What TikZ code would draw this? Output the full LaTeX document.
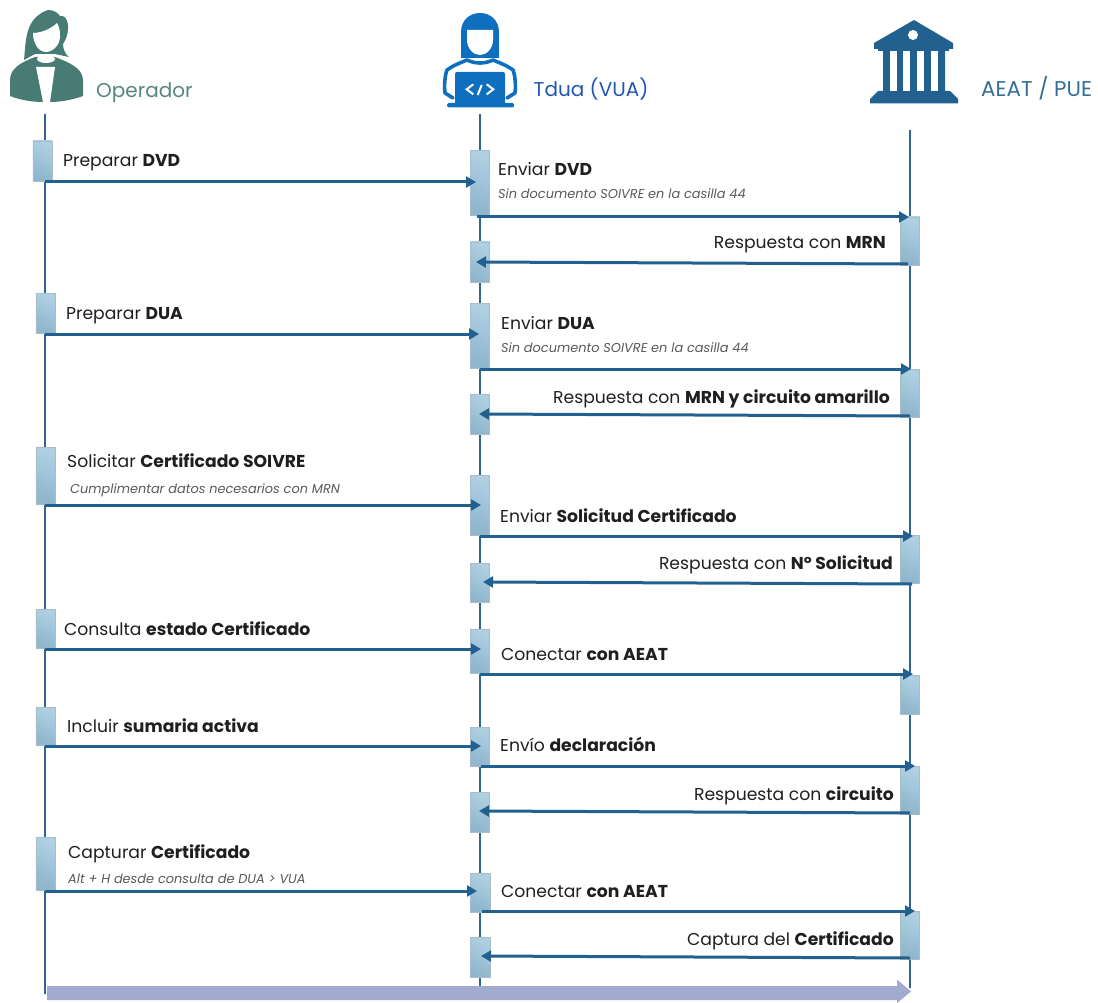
\documentclass[tikz,border=0pt]{standalone}
\usepackage{fontspec}
\setmainfont{Poppins}
\usepackage{xcolor}
\usetikzlibrary{arrows.meta, calc, positioning}

\definecolor{opcol}{HTML}{487B74}
\definecolor{tdcol}{HTML}{0F6FBF}
\definecolor{tdtext}{HTML}{2156B4}
\definecolor{aecol}{HTML}{22618F}
\definecolor{linecol}{HTML}{2F6494}
\definecolor{boxa}{HTML}{AFD0E3}
\definecolor{boxb}{HTML}{8FB6CC}
\definecolor{boxedge}{HTML}{A9BCC8}
\definecolor{barcol}{HTML}{A2ABCF}

\tikzset{
    actbox/.style={shade, top color=boxa, bottom color=boxb, shading angle=-25, draw=boxedge, line width=0.6pt, inner sep=0pt, minimum width=19.5pt},
    msg/.style={->, >={Triangle[length=10pt,width=11pt]}, draw=aecol, line width=3pt},
    life/.style={draw=linecol, line width=2pt},
    lbl/.style={anchor=base west, inner sep=0pt, yshift=-1pt, text=black!88, font=\fontsize{17.2}{20}\selectfont},
    lblr/.style={lbl, anchor=base east},
    sublbl/.style={lbl, yshift=-1pt, text=black!65, font=\fontsize{12.9}{15}\selectfont\itshape},
    actor/.style={anchor=base west, inner sep=0pt, font=\fontsize{20}{23}\selectfont}
}

\begin{document}
\begin{tikzpicture}[x=1pt, y=-1pt]
    \useasboundingbox (0,0) rectangle (1098,1003);

    % lifelines
    \coordinate (opt) at (45,114);
    \coordinate (opb) at (45,994);
    \coordinate (tdt) at (480,114);
    \coordinate (tdb) at (480,987);
    \coordinate (aet) at (910,130);
    \coordinate (aeb) at (910,988);
    \draw[life] (opt) -- (opb);
    \draw[life] (tdt) -- (tdb);
    \draw[life] (aet) -- (aeb);

    % operador icon
    \fill[opcol] (10,96) -- (10,80) .. controls (10,68) and (22,62) .. (35,57) -- (55,57) .. controls (68,62) and (83,68) .. (83,80) -- (83,96) .. controls (72,100) and (60,102) .. (50,102) -- (43,102) .. controls (32,102) and (20,100) .. (10,96) -- cycle;
    \fill[opcol] (24,60) .. controls (26,40) and (25,18) .. (48,10) .. controls (54,10) and (58,13) .. (60,16) .. controls (68,14) and (72,30) .. (63,44) .. controls (63,50) and (66,55) .. (69,57) -- (55,54) -- (35,54) -- cycle;
    \fill[white] (33,33) .. controls (42,33) and (52,28) .. (57,23) .. controls (60,28) and (60,32) .. (60,36) .. controls (60,46) and (52,52) .. (46,52) .. controls (39,52) and (33,44) .. (33,33) -- cycle;
    \fill[white] (46,59) ellipse (9pt and 4pt);
    \fill[white] (36,67) -- (55,67) -- (50,102) -- (43,102) -- cycle;

    % tdua icon
    \fill[tdcol] (461,58) -- (461,32) .. controls (461,20) and (470,13) .. (480,13) .. controls (490,13) and (499,20) .. (499,32) -- (499,58) -- cycle;
    \fill[white] (467,30) -- (493,30) -- (493,40) .. controls (493,48) and (487,55) .. (480,55) .. controls (473,55) and (467,48) .. (467,40) -- cycle;
    \draw[tdcol, line width=3.6pt, line cap=round, line join=round] (453,98) -- (445,93) .. controls (444,85) and (445,75) .. (447,70) .. controls (452,66) and (460,63) .. (467,60) .. controls (475,64) and (485,64) .. (493,60) .. controls (500,63) and (508,66) .. (513,70) .. controls (515,75) and (516,85) .. (515,93) -- (507,98);
    \fill[tdcol, rounded corners=2pt] (455,72) rectangle (505,105);
    \fill[tdcol, rounded corners=1.5pt] (447,103) rectangle (514,107.5);
    \draw[white, line width=2pt] (473.3,84.3) -- (466.7,89.3) -- (473.3,94.3);
    \draw[white, line width=2pt] (481.7,85) -- (477.7,95);
    \draw[white, line width=2pt] (486.7,84.3) -- (493.3,89.3) -- (486.7,94.3);

    % aeat icon
    \fill[aecol] (914,20) -- (953,43) -- (953,49) -- (949,49) -- (949,51) -- (945,51) -- (945,91) -- (950,91) -- (958,99) -- (958,103.5) -- (870,103.5) -- (870,99) -- (878,91) -- (883,91) -- (883,51) -- (878,51) -- (878,49) -- (874,49) -- (874,43) -- cycle;
    \fill[white] (913,35) circle (5pt);
    \fill[white] (889.5,51.5) rectangle (896.5,91);
    \fill[white] (903,51.5) rectangle (910,91);
    \fill[white] (917,51.5) rectangle (924,91);
    \fill[white] (931,51.5) rectangle (938,91);

    % actors
    \node[actor, text=opcol!92!white] (op) at (96,97.5) {Operador};
    \node[actor, text=tdtext] (td) at (533.5,97) {Tdua (VUA)};
    \node[actor, text=aecol!92!white, font=\fontsize{21.4}{24}\selectfont] (ae) at (981,96.5) {AEAT / PUE};

    % activations, operador
    \node[actbox, minimum height=40pt] (o1) at (42.7,161) {};
    \node[actbox, minimum height=40pt] (o2) at (45.7,313) {};
    \node[actbox, minimum height=57pt] (o3) at (45.7,475.5) {};
    \node[actbox, minimum height=39pt] (o4) at (45.7,628.5) {};
    \node[actbox, minimum height=38pt] (o5) at (45.7,726) {};
    \node[actbox, minimum height=53pt] (o6) at (45.7,864) {};

    % activations, tdua
    \node[actbox, minimum height=65pt] (t1) at (480,183) {};
    \node[actbox, minimum height=40pt] (t2) at (480,262) {};
    \node[actbox, minimum height=65pt] (t3) at (480,335.5) {};
    \node[actbox, minimum height=40pt] (t4) at (480,414) {};
    \node[actbox, minimum height=60pt] (t5) at (480,505) {};
    \node[actbox, minimum height=39pt] (t6) at (480,582.5) {};
    \node[actbox, minimum height=44pt] (t7) at (480,651) {};
    \node[actbox, minimum height=39pt] (t8) at (480,746.5) {};
    \node[actbox, minimum height=40pt] (t9) at (480,812) {};
    \node[actbox, minimum height=39pt] (t10) at (480.5,892.5) {};
    \node[actbox, minimum height=40pt] (t11) at (480.5,957) {};

    % activations, aeat
    \node[actbox, minimum height=48pt] (a1) at (910,241) {};
    \node[actbox, minimum height=48pt] (a2) at (910,393) {};
    \node[actbox, minimum height=48pt] (a3) at (910,559) {};
    \node[actbox, minimum height=39pt] (a4) at (910,694.5) {};
    \node[actbox, minimum height=48pt] (a5) at (910,790) {};
    \node[actbox, minimum height=48pt] (a6) at (910,935) {};

    % end points of the messages
    \coordinate (m1a) at (45,182);    \coordinate (m1b) at (476,182);
    \coordinate (m2a) at (477,217);   \coordinate (m2b) at (909,217);
    \coordinate (m3a) at (908,264);   \coordinate (m3b) at (476,262);
    \coordinate (m4a) at (45,334);    \coordinate (m4b) at (479,334);
    \coordinate (m5a) at (480,369);   \coordinate (m5b) at (911,369);
    \coordinate (m6a) at (910,416);   \coordinate (m6b) at (479,414);
    \coordinate (m7a) at (45,505);    \coordinate (m7b) at (481,505);
    \coordinate (m8a) at (480,536);   \coordinate (m8b) at (913,536);
    \coordinate (m9a) at (912,584);   \coordinate (m9b) at (483,582);
    \coordinate (m10a) at (45,649);   \coordinate (m10b) at (481,649);
    \coordinate (m11a) at (480,674);  \coordinate (m11b) at (913,674);
    \coordinate (m12a) at (45,746);   \coordinate (m12b) at (481,746);
    \coordinate (m13a) at (481,766);  \coordinate (m13b) at (915,766);
    \coordinate (m14a) at (910,813);  \coordinate (m14b) at (479,811);
    \coordinate (m15a) at (45,891);   \coordinate (m15b) at (477,891);
    \coordinate (m16a) at (482,911);  \coordinate (m16b) at (915,911);
    \coordinate (m17a) at (910,958);  \coordinate (m17b) at (481,956);

    \draw
    (m1a) edge[msg] (m1b)
    (m2a) edge[msg] (m2b)
    (m3a) edge[msg] (m3b)
    (m4a) edge[msg] (m4b)
    (m5a) edge[msg] (m5b)
    (m6a) edge[msg] (m6b)
    (m7a) edge[msg] (m7b)
    (m8a) edge[msg] (m8b)
    (m9a) edge[msg] (m9b)
    (m10a) edge[msg] (m10b)
    (m11a) edge[msg] (m11b)
    (m12a) edge[msg] (m12b)
    (m13a) edge[msg] (m13b)
    (m14a) edge[msg] (m14b)
    (m15a) edge[msg] (m15b)
    (m16a) edge[msg] (m16b)
    (m17a) edge[msg] (m17b);

    % labels
    \node[lbl] (l1) at (63,166) {Preparar \textbf{DVD}};
    \node[lbl] (l2) at (498,175) {Enviar \textbf{DVD}};
    \node[sublbl] (l2s) at (498,197) {Sin documento SOIVRE en la casilla 44};
    \node[lblr] (l3) at (886,247) {Respuesta con \textbf{MRN}};
    \node[lbl] (l4) at (66,318) {Preparar \textbf{DUA}};
    \node[lbl] (l5) at (501,328) {Enviar \textbf{DUA}};
    \node[sublbl] (l5s) at (501,350) {Sin documento SOIVRE en la casilla 44};
    \node[lblr] (l6) at (890,402) {Respuesta con \textbf{MRN y circuito amarillo}};
    \node[lbl] (l7) at (67,466) {Solicitar \textbf{Certificado SOIVRE}};
    \node[sublbl] (l7s) at (70,491) {Cumplimentar datos necesarios con MRN};
    \node[lbl] (l8) at (500,521) {Enviar \textbf{Solicitud Certificado}};
    \node[lblr] (l9) at (893,568) {Respuesta con \textbf{Nº Solicitud}};
    \node[lbl] (l10) at (64,634) {Consulta \textbf{estado Certificado}};
    \node[lbl] (l11) at (501,659) {Conectar \textbf{con AEAT}};
    \node[lbl] (l12) at (67,731) {Incluir \textbf{sumaria activa}};
    \node[lbl] (l13) at (500,750) {Envío \textbf{declaración}};
    \node[lblr] (l14) at (894,799) {Respuesta con \textbf{circuito}};
    \node[lbl] (l15) at (68,857) {Capturar \textbf{Certificado}};
    \node[sublbl] (l15s) at (68,881) {Alt + H desde consulta de DUA > VUA};
    \node[lbl] (l16) at (501,896) {Conectar \textbf{con AEAT}};
    \node[lblr] (l17) at (894,944) {Captura del \textbf{Certificado}};

    % time arrow
    \fill[barcol] (47,986) -- (897,986) -- (897,979.5) -- (911,991.5) -- (897,1003) -- (897,1000) -- (47,1000) -- cycle;
\end{tikzpicture}
\end{document}
